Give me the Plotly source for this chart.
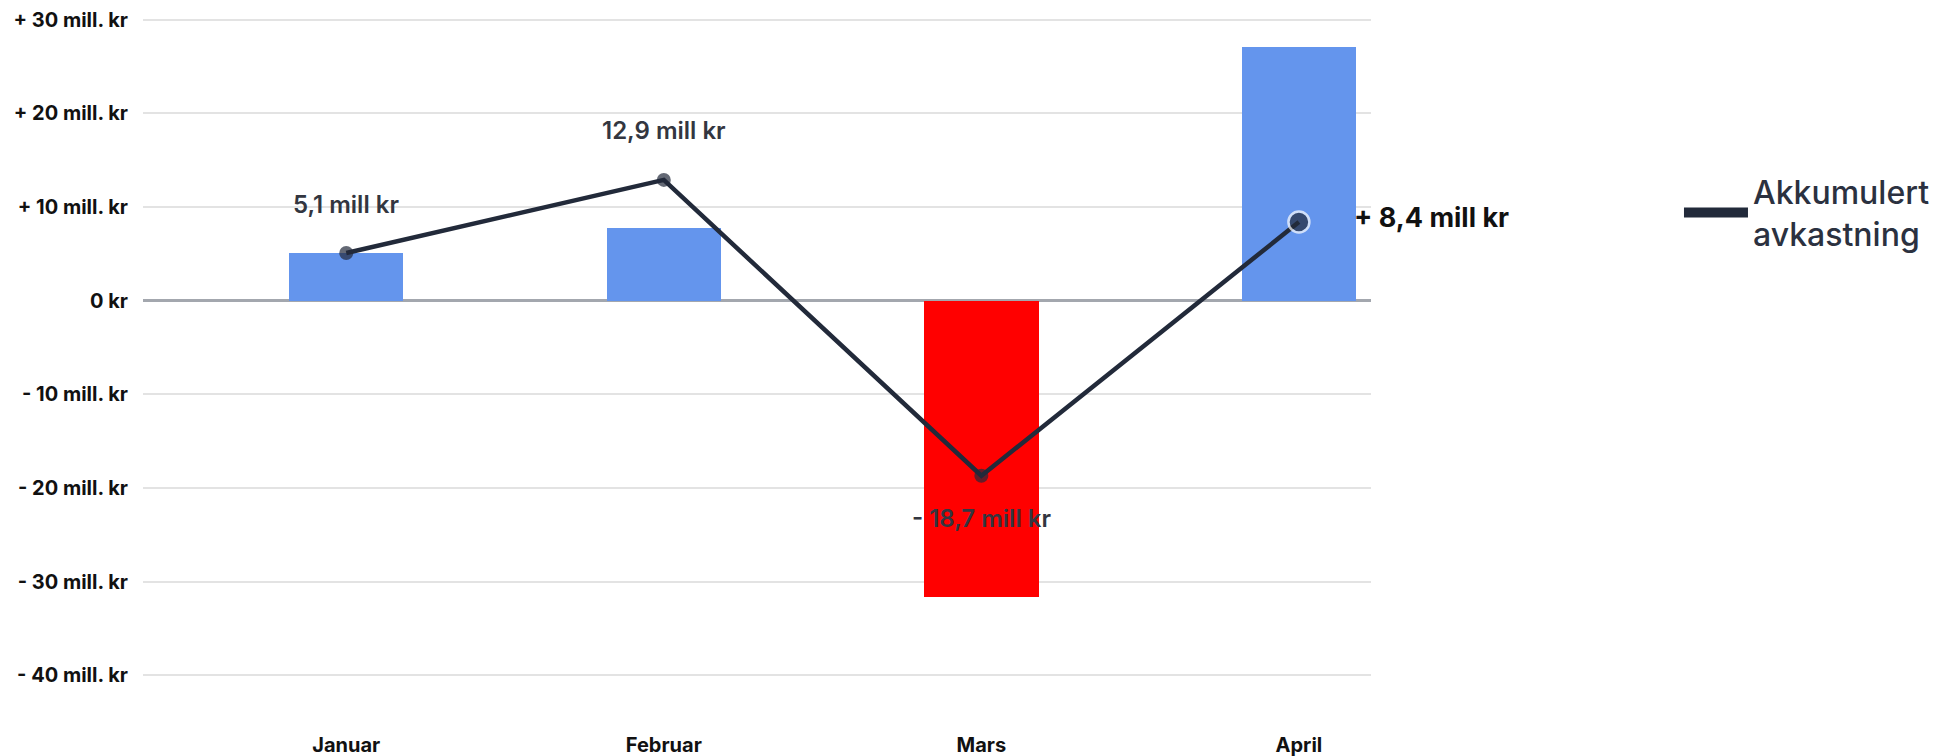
import plotly.graph_objects as go

months = ["Januar", "Februar", "Mars", "April"]
monthly = [5.1, 7.8, -31.6, 27.1]          # mill kr per month (bars)
cumulative = [5.1, 12.9, -18.7, 8.4]        # accumulated return (line)
labels = ["5,1 mill kr", "12,9 mill kr", "- 18,7 mill kr", "+ 8,4 mill kr"]
ytick_vals = [30, 20, 10, 0, -10, -20, -30, -40]
ytick_text = ["+ 30 mill. kr", "+ 20 mill. kr", "+ 10 mill. kr", "0 kr",
              "- 10 mill. kr", "- 20 mill. kr", "- 30 mill. kr", "- 40 mill. kr"]

xs = list(range(len(months)))
BLUE = "#6495ED"
RED = "#FF0000"
NAVY = "#222a3a"
FONT = "Inter"

bar_colors = [BLUE if v >= 0 else RED for v in monthly]

fig = go.Figure()
fig.add_trace(go.Bar(
    x=xs, y=monthly, width=0.36, marker=dict(color=bar_colors, line=dict(width=0)),
    showlegend=False, hoverinfo="skip",
))
fig.add_trace(go.Scatter(
    x=xs, y=cumulative, mode="lines+markers",
    line=dict(color=NAVY, width=4.5),
    marker=dict(color=NAVY, size=[14, 14, 14, 21],
                line=dict(color="white", width=[0, 0, 0, 2.5])),
    showlegend=False,
))
# legend proxy
fig.add_trace(go.Scatter(
    x=[None], y=[None], mode="lines", line=dict(color=NAVY, width=10),
    name="Akkumulert<br>avkastning", showlegend=True,
))

shifts = [(0, 48), (0, 49), (0, -43), (53, 5)]
for i, (xv, yv, t) in enumerate(zip(xs, cumulative, labels)):
    dx, dy = shifts[i]
    last = i == len(xs) - 1
    fig.add_annotation(
        x=xv, y=yv, text=t, showarrow=False,
        xshift=dx, yshift=dy,
        xanchor="left" if last else "center", yanchor="middle",
        font=dict(family=FONT, size=27 if last else 24,
                  color="#111111" if last else "#333640",
                  weight=700 if last else 600),
    )

fig.update_layout(
    width=1936, height=748,
    margin=dict(l=135, r=573, t=9, b=78),
    plot_bgcolor="white", paper_bgcolor="white",
    font=dict(family=FONT),
    bargap=0,
    legend=dict(x=1.2508, y=0.7035, xanchor="left", yanchor="middle",
                font=dict(family=FONT, size=32, color="#2b3140", weight=500),
                itemwidth=64, bgcolor="rgba(0,0,0,0)"),
)
fig.update_xaxes(
    range=[-0.64, 3.227], tickvals=xs, ticktext=months,
    showgrid=False, zeroline=False, showline=False, automargin=False,
    ticks="", ticklabelstandoff=53, ticklabeloverflow="allow",
    tickfont=dict(family=FONT, size=20, color="#111111", weight=700),
)
fig.update_yaxes(
    range=[-40.3, 30.3], tickvals=ytick_vals, ticktext=ytick_text,
    showgrid=True, gridcolor="#e3e3e3", gridwidth=1.5, automargin=False,
    zeroline=True, zerolinecolor="#a3a7ae", zerolinewidth=3,
    showline=False, ticks="outside", ticklen=10, tickcolor="rgba(0,0,0,0)",
    ticklabeloverflow="allow",
    tickfont=dict(family=FONT, size=20, color="#111111", weight=700),
)

fig.write_html("out.html")
